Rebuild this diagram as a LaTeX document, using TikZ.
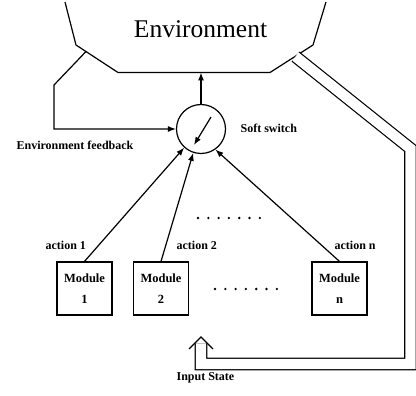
\documentclass[tikz,border=0pt]{standalone}
\usepackage{fontspec}
\setmainfont{Liberation Serif}
\usetikzlibrary{arrows.meta}
\begin{document}
\begin{tikzpicture}[x=1pt,y=-1pt,line width=1.2pt,
  arr/.style={-{Latex[length=8pt,width=6pt]}},
  lbl/.style={font=\fontsize{12}{14}\selectfont\bfseries,inner sep=0pt},
  module/.style={draw,minimum width=55pt,minimum height=53pt,align=center,
    inner sep=0pt,font=\fontsize{12.5}{21}\selectfont\bfseries}]
  \useasboundingbox (0,0) rectangle (416,396);
  % environment
  \draw (65,2) -- (76,45) -- (118,72.5) -- (270,72.5) -- (313,45) -- (326,2);
  \node[anchor=base,font=\fontsize{25.5}{30}\selectfont] (env) at (200.5,37.3) {Environment};
  \coordinate (envb) at (201,72.5);
  \coordinate (envl) at (86,51.5);
  \coordinate (envr) at (295.5,56.6);
  % soft switch
  \node[draw,circle,minimum size=49pt,inner sep=0pt] (sw) at (201,129) {};
  \draw[arr] ([shift={(10,-12)}]sw.center) -- ([shift={(-7,16)}]sw.center);
  \node[lbl,anchor=base west] (swl) at (240,133) {Soft switch};
  \draw[arr] (sw.north) -- (envb);
  % feedback
  \draw[arr] (envl) -- (54,85) |- (sw.west);
  \node[lbl,anchor=base west] (fbl) at (16,149.5) {Environment feedback};
  % modules
  \node[module] (m1) at (84.5,288.5) {Module\\1};
  \node[module] (m2) at (161,288.5) {Module\\2};
  \node[module] (mn) at (339.5,288.5) {Module\\n};
  \draw[arr] (m1.north) -- (sw.228);
  \draw[arr] (m2.north) -- (sw.252);
  \draw[arr] (mn.north) -- (sw.305);
  \node[lbl,anchor=base west] (a1) at (45,250) {action 1};
  \node[lbl,anchor=base west] (a2) at (176,250) {action 2};
  \node[lbl,anchor=base west] (an) at (334,250) {action n};
  % dots
  \foreach \i in {0,...,6} \fill (198+10.3*\i,218) circle (1.3pt);
  \foreach \i in {0,...,6} \fill (215+10.3*\i,289) circle (1.3pt);
  % input state
  \coordinate (inp) at (201,337);
  \draw[double,double distance=10.3pt,shorten >=6.5pt] (envr) -- (410.5,148.6) -- (410.5,364) -| (inp);
  \draw ([shift={(-12,12)}]inp) -- (inp) -- ([shift={(12,12)}]inp);
  \node[lbl,anchor=base west] (inl) at (176,381) {Input State};
\end{tikzpicture}
\end{document}
